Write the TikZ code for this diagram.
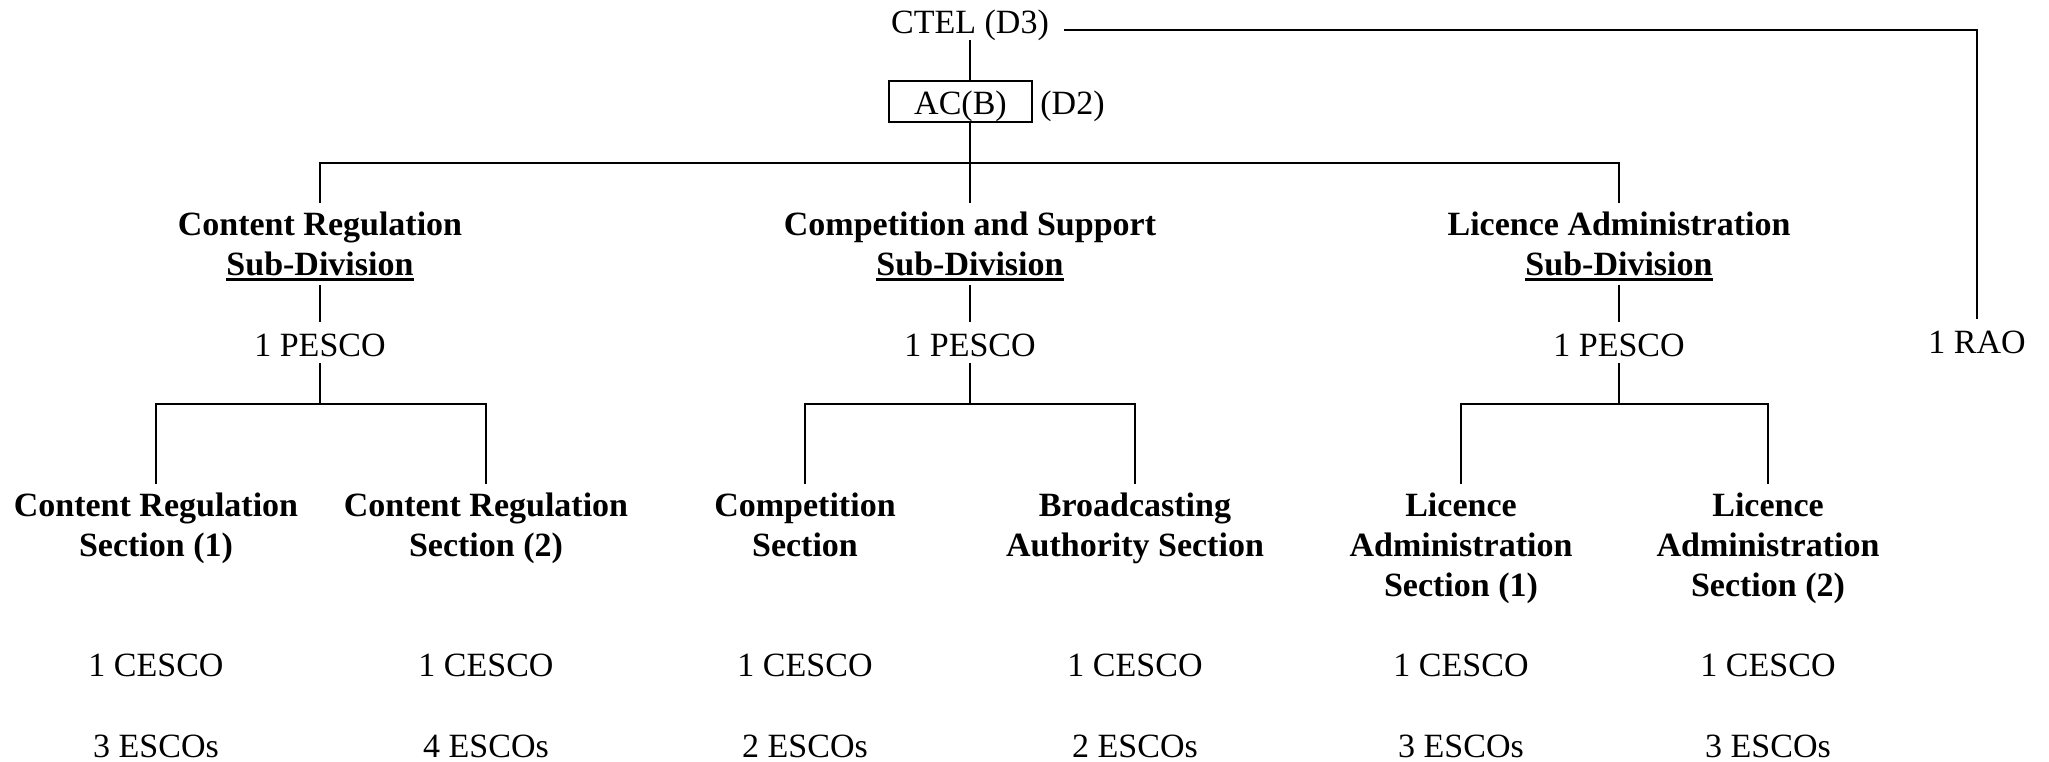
\documentclass[tikz,border=0pt]{standalone}
\usepackage{fontspec}
\setmainfont{Liberation Serif}
\usetikzlibrary{positioning}

\newcommand{\topgap}{\rule{0pt}{16pt}}
\newcommand{\botgap}{\rule[-4.5pt]{0pt}{4.5pt}}
\newcommand{\ulbox}[1]{\setbox0=\hbox{#1}\rlap{\rule[-3pt]{\wd0}{1.5pt}}\box0}

\tikzset{
  every node/.style={font=\fontsize{17}{20}\selectfont},
  lbl/.style={inner sep=0pt, text height=17pt, text depth=3.5pt},
  unit/.style={inner sep=0pt, align=center, font=\fontsize{17}{20}\selectfont\bfseries},
  link/.style={line width=0.8pt},
}

\begin{document}
\begin{tikzpicture}[x=0.5pt,y=-0.5pt]
\useasboundingbox (0,0) rectangle (2049,761);

% top
\node[lbl, anchor=base, inner xsep=7.5pt] (ctel) at (970,33) {CTEL (D3)};
\node[draw, line width=1pt, minimum width=71.5pt, minimum height=20pt, inner sep=0pt,
      text height=17pt, text depth=3.5pt] (acb) at (960.5,101) {AC(B)};
\node[lbl, right=3.5pt of acb] (d2) {(D2)};
\node[lbl, anchor=base] (rao) at (1977,353) {1 RAO};
\coordinate (topbus) at (970,163);

% sub-divisions
\node[unit, anchor=north] (crsub) at (320,203) {\topgap Content Regulation\\ \ulbox{Sub-Division}\botgap};
\node[unit, anchor=north] (cssub) at (970,203) {\topgap Competition and Support\\ \ulbox{Sub-Division}\botgap};
\node[unit, anchor=north] (lasub) at (1619,203) {\topgap Licence Administration\\ \ulbox{Sub-Division}\botgap};

\node[lbl, anchor=base] (crpesco) at (320,356) {1 PESCO};
\node[lbl, anchor=base] (cspesco) at (970,356) {1 PESCO};
\node[lbl, anchor=base] (lapesco) at (1619,356) {1 PESCO};

\coordinate (crbus) at (320,404);
\coordinate (csbus) at (970,404);
\coordinate (labus) at (1619,404);

% sections
\node[unit, anchor=north] (crsec1) at (156,484) {\topgap Content Regulation\\Section (1)};
\node[unit, anchor=north] (crsec2) at (486,484) {\topgap Content Regulation\\Section (2)};
\node[unit, anchor=north] (compsec) at (805,484) {\topgap Competition\\Section};
\node[unit, anchor=north] (bcsec) at (1135,484) {\topgap Broadcasting\\Authority Section};
\node[unit, anchor=north] (lasec1) at (1461,484) {\topgap Licence\\Administration\\Section (1)};
\node[unit, anchor=north] (lasec2) at (1768,484) {\topgap Licence\\Administration\\Section (2)};

% staff
\node[lbl, anchor=base] (crcesco1) at (156,676) {1 CESCO};
\node[lbl, anchor=base] (crcesco2) at (486,676) {1 CESCO};
\node[lbl, anchor=base] (compcesco) at (805,676) {1 CESCO};
\node[lbl, anchor=base] (bccesco) at (1135,676) {1 CESCO};
\node[lbl, anchor=base] (lacesco1) at (1461,676) {1 CESCO};
\node[lbl, anchor=base] (lacesco2) at (1768,676) {1 CESCO};
\node[lbl, anchor=base] (cresco1) at (156,757) {3 ESCOs};
\node[lbl, anchor=base] (cresco2) at (486,757) {4 ESCOs};
\node[lbl, anchor=base] (compesco) at (805,757) {2 ESCOs};
\node[lbl, anchor=base] (bcesco) at (1135,757) {2 ESCOs};
\node[lbl, anchor=base] (laesco1) at (1461,757) {3 ESCOs};
\node[lbl, anchor=base] (laesco2) at (1768,757) {3 ESCOs};

% lines
\draw[link] (ctel.south) -- (ctel.south |- acb.north);
\draw[link] (ctel.south |- acb.south) -- (topbus);
\draw[link] ([yshift=1.5pt]ctel.base east) -| (rao.north);
\draw[link] (crsub.north) |- (topbus) -| (lasub.north);
\draw[link] (topbus) -- (cssub.north);

\draw[link] (crsub.south) -- (crpesco.north);
\draw[link] (cssub.south) -- (cspesco.north);
\draw[link] (lasub.south) -- (lapesco.north);
\draw[link] (crpesco.south) -- (crbus);
\draw[link] (cspesco.south) -- (csbus);
\draw[link] (lapesco.south) -- (labus);

\draw[link] (crsec1.north) |- (crbus) -| (crsec2.north);
\draw[link] (compsec.north) |- (csbus) -| (bcsec.north);
\draw[link] (lasec1.north) |- (labus) -| (lasec2.north);
\end{tikzpicture}
\end{document}
